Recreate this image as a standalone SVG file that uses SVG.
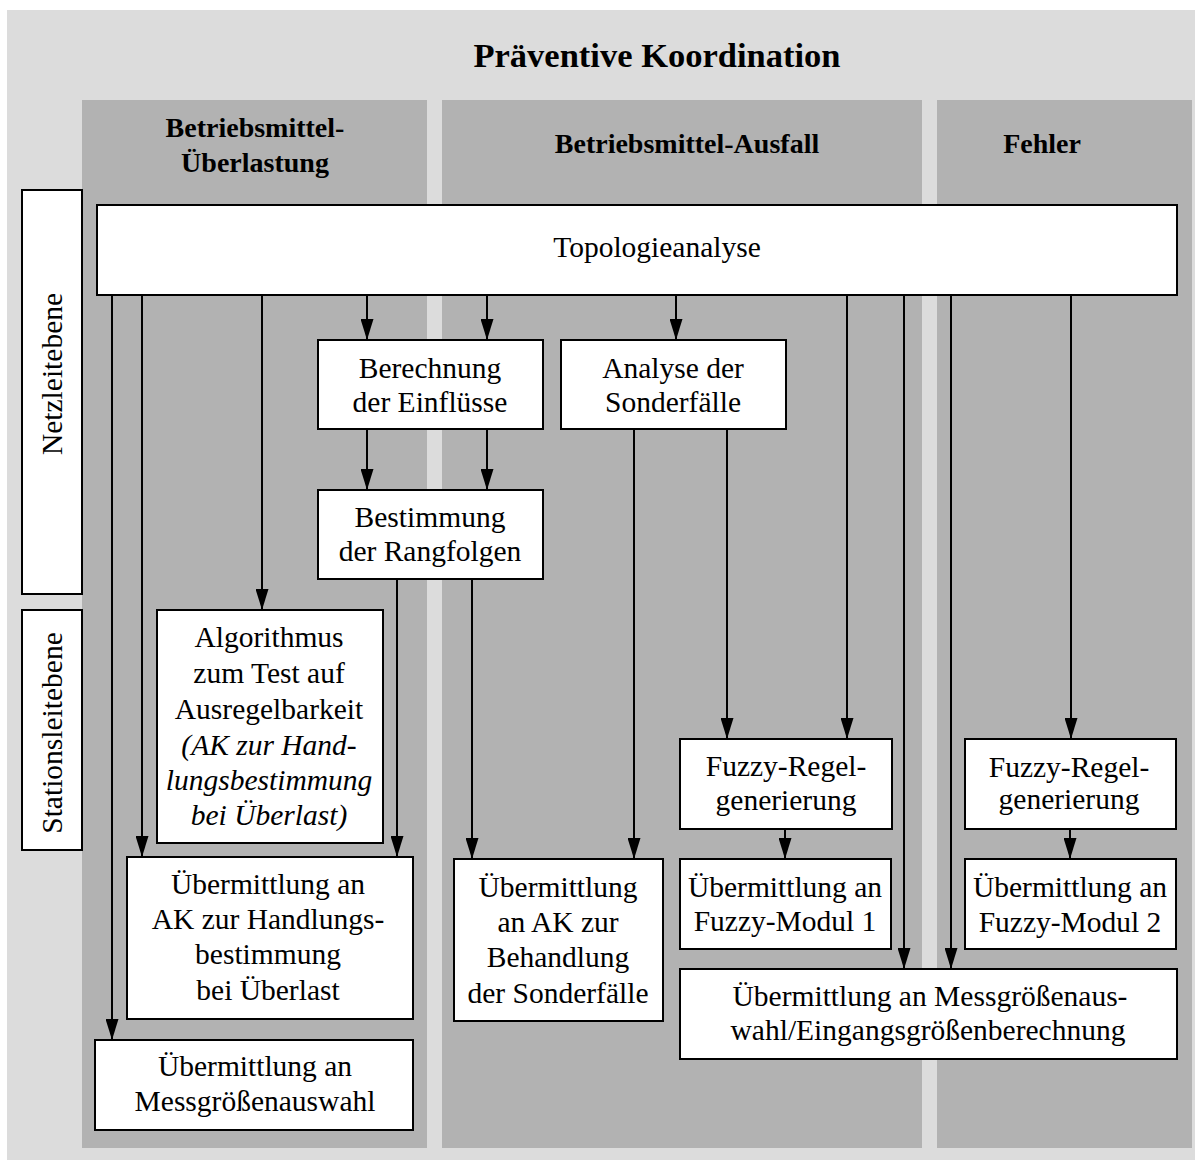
<svg xmlns="http://www.w3.org/2000/svg" width="1195" height="1160" viewBox="0 0 1195 1160">
  <style>
    .bg { fill: #dcdcdc; }
    .col { fill: #b2b2b2; }
    .box { fill: #ffffff; stroke: #000000; stroke-width: 2; }
    .t { font-family: "Liberation Serif", "Times New Roman", serif; font-size: 29.5px; fill: #000000; text-anchor: middle; }
    .it { font-style: italic; }
    .hd { font-family: "Liberation Serif", "Times New Roman", serif; font-size: 28px; font-weight: bold; fill: #000000; text-anchor: middle; }
    .title { font-family: "Liberation Serif", "Times New Roman", serif; font-size: 34.5px; font-weight: bold; fill: #000000; text-anchor: middle; }
    .arr { fill: none; stroke: #000000; stroke-width: 2; marker-end: url(#head); }
  </style>
  <defs>
    <marker id="head" viewBox="0 0 21 13" refX="21" refY="6.5" markerWidth="21" markerHeight="13" markerUnits="userSpaceOnUse" orient="auto">
      <path d="M0,0 L21,6.5 L0,13 Z" fill="#000000"/>
    </marker>
  </defs>

  <!-- background and category columns -->
  <rect class="bg" x="7" y="10" width="1188" height="1150"/>
  <rect class="col" x="82" y="100" width="345" height="1048"/>
  <rect class="col" x="442" y="100" width="480" height="1048"/>
  <rect class="col" x="937" y="100" width="255" height="1048"/>

  <text class="title" x="657" y="67">Präventive Koordination</text>
  <g id="hd-ueberlastung">
    <text class="hd" x="255" y="137">Betriebsmittel-</text>
    <text class="hd" x="255" y="172">Überlastung</text>
  </g>
  <text id="hd-ausfall" class="hd" x="687" y="153">Betriebsmittel-Ausfall</text>
  <text id="hd-fehler" class="hd" x="1042" y="153">Fehler</text>

  <!-- level labels -->
  <g id="netzleitebene">
    <rect class="box" x="22" y="190" width="60" height="404"/>
    <text class="t" transform="translate(62,374) rotate(-90)">Netzleitebene</text>
  </g>
  <g id="stationsleitebene">
    <rect class="box" x="22" y="610" width="60" height="240"/>
    <text class="t" transform="translate(62,733) rotate(-90)">Stationsleitebene</text>
  </g>

  <!-- connectors -->
  <g id="connectors">
    <line class="arr" x1="112" y1="295" x2="112" y2="1040"/>
    <line class="arr" x1="142" y1="295" x2="142" y2="857"/>
    <line class="arr" x1="262" y1="295" x2="262" y2="610"/>
    <line class="arr" x1="367" y1="295" x2="367" y2="340"/>
    <line class="arr" x1="487" y1="295" x2="487" y2="340"/>
    <line class="arr" x1="676" y1="295" x2="676" y2="340"/>
    <line class="arr" x1="847" y1="295" x2="847" y2="739"/>
    <line class="arr" x1="904" y1="295" x2="904" y2="969"/>
    <line class="arr" x1="951" y1="295" x2="951" y2="969"/>
    <line class="arr" x1="1071" y1="295" x2="1071" y2="739"/>
    <line class="arr" x1="367" y1="429" x2="367" y2="490"/>
    <line class="arr" x1="487" y1="429" x2="487" y2="490"/>
    <line class="arr" x1="397" y1="579" x2="397" y2="857"/>
    <line class="arr" x1="472" y1="579" x2="472" y2="859"/>
    <line class="arr" x1="634" y1="429" x2="634" y2="859"/>
    <line class="arr" x1="727" y1="429" x2="727" y2="739"/>
    <line class="arr" x1="785" y1="829" x2="785" y2="859"/>
    <line class="arr" x1="1070" y1="829" x2="1070" y2="859"/>
  </g>

  <!-- nodes -->
  <g id="topologieanalyse">
    <rect class="box" x="97" y="205" width="1080" height="90"/>
    <text class="t" x="657" y="257">Topologieanalyse</text>
  </g>
  <g id="berechnung">
    <rect class="box" x="318" y="340" width="225" height="89"/>
    <text class="t" x="430" y="378">Berechnung</text>
    <text class="t" x="430" y="412">der Einflüsse</text>
  </g>
  <g id="analyse">
    <rect class="box" x="561" y="340" width="225" height="89"/>
    <text class="t" x="673" y="378">Analyse der</text>
    <text class="t" x="673" y="412">Sonderfälle</text>
  </g>
  <g id="bestimmung">
    <rect class="box" x="318" y="490" width="225" height="89"/>
    <text class="t" x="430" y="527">Bestimmung</text>
    <text class="t" x="430" y="561">der Rangfolgen</text>
  </g>
  <g id="algorithmus">
    <rect class="box" x="157" y="610" width="226" height="233"/>
    <text class="t" x="269" y="647">Algorithmus</text>
    <text class="t" x="269" y="683">zum Test auf</text>
    <text class="t" x="269" y="719">Ausregelbarkeit</text>
    <text class="t it" x="269" y="755">(AK zur Hand-</text>
    <text class="t it" x="269" y="790">lungsbestimmung</text>
    <text class="t it" x="269" y="825">bei Überlast)</text>
  </g>
  <g id="uebermittlung-handlung">
    <rect class="box" x="127" y="857" width="286" height="162"/>
    <text class="t" x="268" y="894">Übermittlung an</text>
    <text class="t" x="268" y="929">AK zur Handlungs-</text>
    <text class="t" x="268" y="964">bestimmung</text>
    <text class="t" x="268" y="1000">bei Überlast</text>
  </g>
  <g id="uebermittlung-messgroessenauswahl">
    <rect class="box" x="95" y="1040" width="318" height="90"/>
    <text class="t" x="255" y="1076">Übermittlung an</text>
    <text class="t" x="255" y="1111">Messgrößenauswahl</text>
  </g>
  <g id="uebermittlung-sonderfaelle">
    <rect class="box" x="454" y="859" width="209" height="162"/>
    <text class="t" x="558" y="897">Übermittlung</text>
    <text class="t" x="558" y="932">an AK zur</text>
    <text class="t" x="558" y="967">Behandlung</text>
    <text class="t" x="558" y="1003">der Sonderfälle</text>
  </g>
  <g id="fuzzy-regel-1">
    <rect class="box" x="680" y="739" width="212" height="90"/>
    <text class="t" x="786" y="776">Fuzzy-Regel-</text>
    <text class="t" x="786" y="810">generierung</text>
  </g>
  <g id="fuzzy-modul-1">
    <rect class="box" x="680" y="859" width="211" height="90"/>
    <text class="t" x="785" y="897">Übermittlung an</text>
    <text class="t" x="785" y="931">Fuzzy-Modul 1</text>
  </g>
  <g id="uebermittlung-eingangsgroessen">
    <rect class="box" x="680" y="969" width="497" height="90"/>
    <text class="t" x="930" y="1006">Übermittlung an Messgrößenaus-</text>
    <text class="t" x="928" y="1040">wahl/Eingangsgrößenberechnung</text>
  </g>
  <g id="fuzzy-regel-2">
    <rect class="box" x="965" y="739" width="211" height="90"/>
    <text class="t" x="1069" y="777">Fuzzy-Regel-</text>
    <text class="t" x="1069" y="809">generierung</text>
  </g>
  <g id="fuzzy-modul-2">
    <rect class="box" x="965" y="859" width="211" height="90"/>
    <text class="t" x="1070" y="897">Übermittlung an</text>
    <text class="t" x="1070" y="932">Fuzzy-Modul 2</text>
  </g>
</svg>
